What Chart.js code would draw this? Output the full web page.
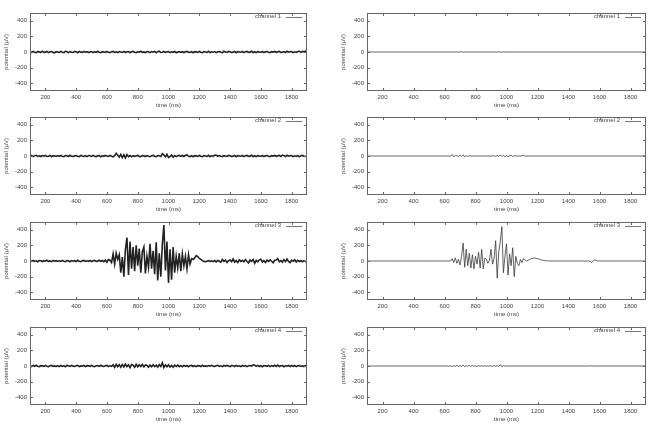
<!DOCTYPE html>
<html>
<head>
<meta charset="utf-8">
<script src="https://cdn.jsdelivr.net/npm/chart.js@4.4.0/dist/chart.umd.min.js"></script>
<style>
  body { margin: 0; background: #fff; width: 648px; height: 425px; overflow: hidden; position: relative; }
  canvas { position: absolute; }
</style>
</head>
<body>
<script>
// temps d'échantillonnage (ms)
const times = [
  100,110,120,130,140,150,160,170,180,190,200,210,220,230,240,250,260,270,280,290,
  300,310,320,330,340,350,360,370,380,390,400,410,420,430,440,450,460,470,480,490,
  500,510,520,530,540,550,560,570,580,590,600,610,620,630,640,650,660,670,680,690,
  700,710,720,730,740,750,760,770,780,790,800,810,820,830,840,850,860,870,880,890,
  900,910,920,930,940,950,960,970,980,990,1000,1010,1020,1030,1040,1050,1060,1070,1080,1090,
  1100,1110,1120,1130,1140,1150,1160,1170,1180,1190,1200,1210,1220,1230,1240,1250,1260,1270,1280,1290,
  1300,1310,1320,1330,1340,1350,1360,1370,1380,1390,1400,1410,1420,1430,1440,1450,1460,1470,1480,1490,
  1500,1510,1520,1530,1540,1550,1560,1570,1580,1590,1600,1610,1620,1630,1640,1650,1660,1670,1680,1690,
  1700,1710,1720,1730,1740,1750,1760,1770,1780,1790,1800,1810,1820,1830,1840,1850,1860,1870,1880,1890,
  1900
];

const xTicks = [200, 400, 600, 800, 1000, 1200, 1400, 1600, 1800];
const yTicks = [-400, -200, 0, 200, 400];

// signaux bruts (colonne de gauche), en µV
const rawCh1 = [
  4,-6,8,-3,-9,5,2,-7,10,-4,-2,7,-8,3,6,-5,-10,4,1,-6,
  8,-3,-7,9,2,-8,5,-4,-6,7,3,-9,6,-2,-5,8,-3,4,-8,2,
  6,-7,3,-4,9,-2,-8,5,1,-6,7,-3,-9,4,8,-5,2,-7,6,-1,
  -4,8,-6,3,5,-9,2,7,-3,-8,4,-2,9,-5,1,-7,6,3,-8,5,
  -2,7,-10,4,12,-6,-3,8,-5,2,6,-8,3,-4,7,-9,1,5,-6,4,
  -7,3,8,-2,-6,5,-9,4,2,-5,7,-3,-8,6,1,-4,9,-7,3,-2,
  5,-8,2,6,-4,-7,9,-1,-5,8,3,-6,-2,7,-9,4,1,-3,6,-8,
  4,7,-5,-2,9,-6,3,-8,5,1,-4,8,-7,2,6,-3,-9,5,-1,7,
  -4,3,8,-6,-2,5,-7,9,-3,4,6,-8,2,-5,7,10,-4,8,3,12,
  6
];
const rawCh2 = [
  -3,6,-8,4,9,-5,2,-7,5,-2,8,-6,-3,7,-9,4,1,-5,6,-4,
  7,-2,-8,5,3,-6,9,-4,-7,2,6,-3,-9,8,1,-5,4,-8,6,3,
  -5,8,-2,-7,4,6,-9,3,-4,7,1,-6,8,-3,-10,5,35,10,-15,20,
  -20,15,-25,18,-8,6,-10,4,-6,3,8,-5,-9,6,2,-7,5,-3,-8,4,
  7,-4,-9,5,3,-6,30,12,-10,20,-18,-8,12,-15,6,-8,4,8,-4,6,
  -6,9,14,-3,-7,5,-9,4,2,-5,7,-3,-8,6,1,-4,9,-7,3,-2,
  8,12,-4,6,-3,-7,5,-1,-5,8,3,-6,-2,7,-9,4,1,-3,6,-8,
  4,7,-5,-2,9,-6,3,-8,5,1,-4,8,-7,2,6,-3,-9,5,-1,7,
  -4,3,8,-6,12,5,-7,9,-3,4,6,-8,2,-5,7,-10,4,8,-3,-6,
  5
];
const rawCh3 = [
  5,-4,8,-6,2,-9,6,3,-7,4,-2,9,-5,1,-8,7,-3,4,-6,2,
  -5,8,-3,-7,6,2,-9,5,-2,4,-6,9,-3,-8,3,7,-5,2,-4,6,
  -7,3,8,-5,-2,9,-4,6,-8,12,-15,20,10,-20,90,-40,100,20,80,-150,
  50,-200,150,300,-180,250,-100,180,-130,200,-60,160,-150,120,180,-160,60,-80,220,-100,
  130,-170,240,-250,100,-200,220,460,-120,250,-280,150,-240,180,-150,60,-90,100,-130,90,
  -60,60,-100,80,-40,30,20,40,70,55,35,20,5,-5,-10,-2,4,-6,2,-8,
  5,-12,8,-3,-15,20,-6,10,-18,4,12,-9,25,-14,6,-20,15,-5,8,-11,
  18,-7,-25,12,-4,20,-30,8,-10,15,22,-12,5,-18,10,-6,14,-3,-22,9,
  12,30,-10,6,-15,18,-8,25,-5,-20,10,-4,15,-12,8,-6,3,-10,5,-8,
  -4
];
const rawCh4 = [
  3,-7,6,-4,9,-2,-8,5,2,-6,7,-3,-9,4,8,-5,1,-6,3,-8,
  6,-4,2,-9,7,3,-5,8,-2,-6,4,9,-7,1,-3,6,-8,5,2,-4,
  7,-3,-8,4,6,-5,9,-2,-6,3,8,-7,2,-4,15,-18,22,-10,18,-14,
  20,-12,25,-8,15,-20,18,10,-15,22,-10,16,-6,20,-12,14,8,-16,12,-9,
  15,-8,10,-14,18,-6,40,-20,14,-10,16,-12,8,-15,10,-6,12,-8,5,-9,
  8,-5,6,-9,4,7,-6,3,-8,5,2,-7,9,-4,1,-6,5,-3,8,-2,
  -6,4,9,-5,2,-8,6,-3,7,-1,-9,5,3,-6,8,-4,2,-7,6,-3,
  5,-8,4,7,-2,15,10,-5,8,-6,3,-9,6,2,-4,7,-8,5,-3,9,
  -5,12,-7,4,6,-9,3,-2,8,-6,5,-4,7,-8,2,6,-5,3,-7,4,
  -2
];

// signaux filtrés (colonne de droite), en µV
const filtCh1 = [
  0,0,0,0,0,0,0,0,0,0,0,0,0,0,0,0,0,0,0,0,
  0,0,0,0,0,0,0,0,0,0,0,0,0,0,0,0,0,0,0,0,
  0,0,0,0,0,0,0,0,0,0,0,0,0,0,0,0,0,0,0,0,
  0,3,-2,0,0,0,0,0,0,0,0,0,0,0,0,0,0,0,0,0,
  0,0,0,0,0,4,-3,0,0,0,0,0,0,0,0,0,0,0,0,0,
  0,0,0,0,0,0,0,0,0,0,0,0,0,0,0,0,0,0,0,0,
  0,0,0,0,0,0,0,0,0,0,0,0,0,0,0,0,0,0,0,0,
  0,0,0,0,0,0,0,0,0,0,0,0,0,0,0,0,0,0,0,0,
  0,0,0,0,0,0,0,0,0,0,0,0,0,0,0,0,0,0,0,0,
  0
];
const filtCh2 = [
  0,0,0,0,0,0,0,0,0,0,0,0,0,0,0,0,0,0,0,0,
  0,0,0,0,0,0,0,0,0,0,0,0,0,0,0,0,0,0,0,0,
  0,0,0,0,0,0,0,0,0,0,0,0,0,0,0,18,-12,10,5,-8,
  12,-6,15,-10,4,-3,2,0,0,0,0,0,0,0,0,0,0,0,0,0,
  0,0,3,-4,8,-6,15,-8,10,-12,6,-10,5,8,-5,2,0,0,0,0,
  5,10,-3,0,0,0,0,0,0,0,0,0,0,0,0,0,0,0,0,0,
  0,0,0,0,0,0,0,0,0,0,0,0,0,0,0,0,0,0,0,0,
  0,0,0,0,0,0,0,0,0,0,0,0,0,0,0,0,0,0,0,0,
  0,0,0,0,0,0,0,0,0,0,0,0,0,0,0,0,0,0,3,2,
  0
];
const filtCh3 = [
  0,0,0,0,0,0,0,0,0,0,0,0,0,0,0,0,0,0,0,0,
  0,0,0,0,0,0,0,0,0,0,0,0,0,0,0,0,0,0,0,0,
  0,0,0,0,0,0,0,0,0,0,0,0,0,0,0,30,-20,40,-30,20,
  -50,60,230,-80,150,-60,100,-90,80,-100,60,-40,110,-90,150,-100,40,20,-30,10,
  150,-40,30,260,-220,120,250,440,-150,60,220,-180,90,-60,170,-200,60,-30,-60,20,
  -20,30,10,0,10,20,30,35,40,35,30,25,18,12,8,5,3,1,0,0,
  0,0,0,0,0,0,0,0,0,0,0,0,0,0,0,0,0,0,0,0,
  0,0,0,0,-5,-20,5,15,5,0,0,0,0,0,0,0,0,0,0,0,
  0,0,0,0,0,0,0,0,0,0,0,0,0,0,0,0,0,0,0,0,
  0
];
const filtCh4 = [
  0,0,0,0,0,0,0,0,0,0,0,0,0,0,0,0,0,0,0,0,
  0,0,0,0,0,0,0,0,0,0,0,0,0,0,0,0,0,0,0,0,
  0,0,0,0,0,0,0,0,0,0,0,0,0,0,0,-5,4,-3,6,-4,
  5,-6,12,-8,4,-3,6,-4,5,-2,3,-5,4,-3,2,-4,3,0,0,0,
  2,-3,4,-5,6,-8,18,-10,5,-4,3,-2,2,0,0,0,0,0,0,0,
  0,0,0,0,0,0,0,0,0,0,0,0,0,0,0,0,0,0,0,0,
  0,0,0,0,0,0,0,0,0,0,0,0,0,0,0,0,0,0,0,0,
  0,0,0,0,0,3,0,0,0,0,0,0,0,0,0,0,0,0,0,0,
  0,0,0,0,0,0,0,0,0,0,0,0,0,0,0,0,0,0,0,0,
  0
];

const labels = ['channel 1', 'channel 2', 'channel 3', 'channel 4'];
const rawSeries = [rawCh1, rawCh2, rawCh3, rawCh4];
const filtSeries = [filtCh1, filtCh2, filtCh3, filtCh4];

const FONT = 'Liberation Sans, Arial, sans-serif';
const TXT = '#444';

// cadre + graduations vers l'intérieur + légende façon gnuplot
const gnuFrame = {
    id: 'gnuFrame',
    afterDatasetsDraw(chart) {
        const { ctx, chartArea: a, scales: { x, y } } = chart;
        ctx.save();
        ctx.strokeStyle = '#666';
        ctx.lineWidth = 1;
        ctx.strokeRect(a.left + 0.5, a.top + 0.5, a.right - a.left - 1, a.bottom - a.top - 1);
        ctx.beginPath();
        xTicks.forEach(v => {
            const px = Math.round(x.getPixelForValue(v)) + 0.5;
            ctx.moveTo(px, a.top); ctx.lineTo(px, a.top + 3);
            ctx.moveTo(px, a.bottom); ctx.lineTo(px, a.bottom - 3);
        });
        yTicks.forEach(v => {
            const py = Math.round(y.getPixelForValue(v)) + 0.5;
            ctx.moveTo(a.left, py); ctx.lineTo(a.left + 3, py);
            ctx.moveTo(a.right, py); ctx.lineTo(a.right - 3, py);
        });
        ctx.stroke();

        const ds = chart.data.datasets[0];
        const ly = a.top + 3.5;
        ctx.font = '6px ' + FONT;
        ctx.fillStyle = TXT;
        ctx.textAlign = 'right';
        ctx.textBaseline = 'middle';
        ctx.fillText(ds.label, a.right - 26, ly);
        ctx.beginPath();
        ctx.strokeStyle = '#555';
        ctx.lineWidth = 0.8;
        ctx.moveTo(a.right - 21, Math.round(ly) + 0.5);
        ctx.lineTo(a.right - 5, Math.round(ly) + 0.5);
        ctx.stroke();
        ctx.restore();
    }
};

const rowTops = [0, 104, 209, 314];

function makeChart(col, row) {
    const canvas = document.createElement('canvas');
    canvas.width = 324;
    canvas.height = 112;
    canvas.style.left = (col * 324) + 'px';
    canvas.style.top = rowTops[row] + 'px';
    document.body.appendChild(canvas);

    const values = col === 0 ? rawSeries[row] : filtSeries[row];
    const pts = times.map((t, i) => ({ x: t, y: values[i] }));

    new Chart(canvas, {
        type: 'line',
        data: {
            datasets: [{
                label: labels[row],
                data: pts,
                borderColor: col === 0 ? '#222' : '#3a3a3a',
                borderWidth: col === 0 ? 1.6 : 0.8,
                pointRadius: 0,
                tension: 0
            }]
        },
        plugins: [gnuFrame],
        options: {
            responsive: false,
            animation: false,
            devicePixelRatio: 1,
            layout: {
                padding: col === 0
                    ? { left: 0, right: 17, top: 13, bottom: 1 }
                    : { left: 13, right: 2, top: 13, bottom: 1 }
            },
            plugins: {
                legend: { display: false },
                tooltip: { enabled: false }
            },
            scales: {
                x: {
                    type: 'linear',
                    min: 100,
                    max: 1900,
                    afterBuildTicks: s => { s.ticks = xTicks.map(v => ({ value: v })); },
                    afterFit: s => { s.height = 20; },
                    grid: { display: false, drawTicks: false },
                    border: { display: false },
                    ticks: { font: { family: FONT, size: 6 }, color: TXT, padding: 3, maxRotation: 0, autoSkip: false, callback: v => String(v) },
                    title: { display: true, text: 'time (ms)', font: { family: FONT, size: 6 }, color: TXT, padding: { top: 0, bottom: 2.4 } }
                },
                y: {
                    type: 'linear',
                    min: -500,
                    max: 500,
                    afterBuildTicks: s => { s.ticks = yTicks.map(v => ({ value: v })); },
                    afterFit: s => { s.width = 30; },
                    grid: { display: false, drawTicks: false },
                    border: { display: false },
                    ticks: { font: { family: FONT, size: 6 }, color: TXT, padding: 3, autoSkip: false, callback: v => String(v) },
                    title: { display: true, text: 'potential (µV)', font: { family: FONT, size: 6 }, color: TXT, padding: { top: 2.4, bottom: 0 } }
                }
            }
        }
    });
}

for (let row = 0; row < 4; row++) {
    makeChart(0, row);
    makeChart(1, row);
}
</script>
</body>
</html>
